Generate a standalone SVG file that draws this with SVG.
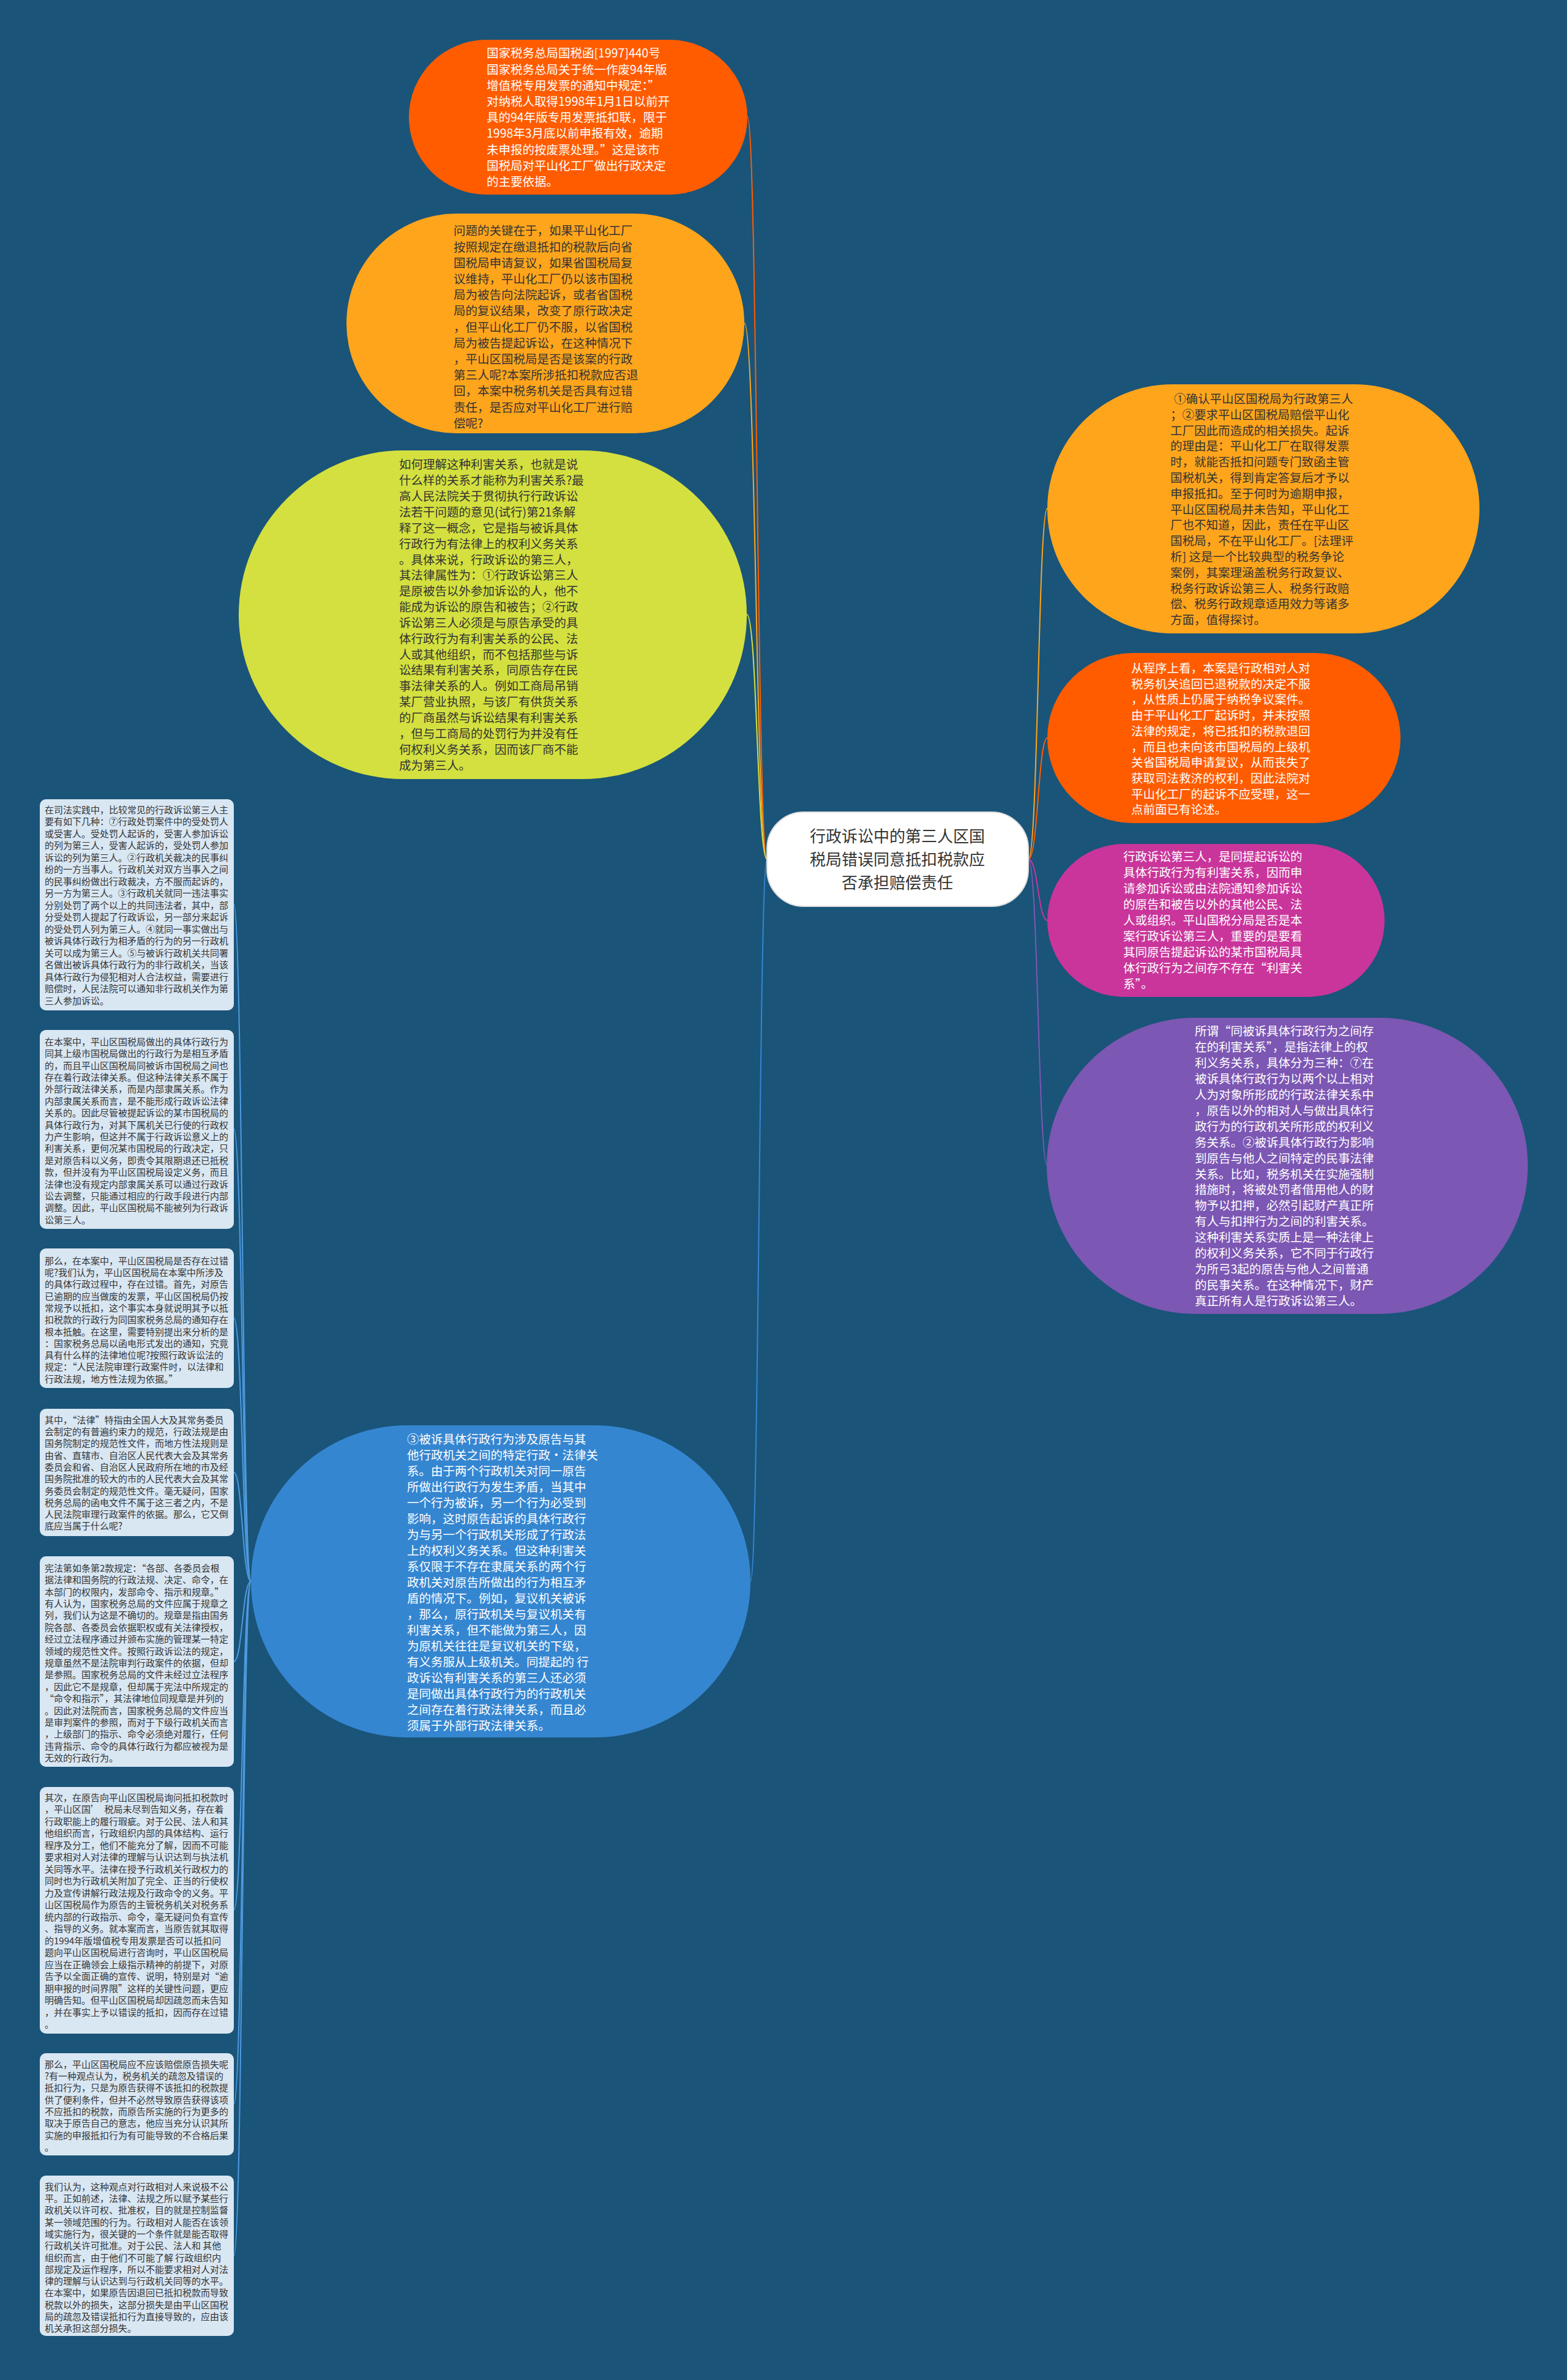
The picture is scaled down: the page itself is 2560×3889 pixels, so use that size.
<svg xmlns="http://www.w3.org/2000/svg" width="2560" height="3889" viewBox="0 0 2560 3889">
<style>
.n{font-family:"Noto Sans CJK SC","Noto Sans",sans-serif;font-size:19.5px}
.dk{fill:#333333}
.lt{fill:#ffffff}
.bx{fill:#d9e7f3}
.bt{font-family:"Noto Sans CJK SC","Noto Sans",sans-serif;font-size:15px;fill:#333333}
.rt{font-family:"Noto Sans CJK SC","Noto Sans",sans-serif;font-size:26px;fill:#333333;text-anchor:middle}
.c{fill:none;stroke-width:2}
</style>
<rect x="0" y="0" width="2560" height="3889" fill="#1a5479"/>
<g id="connectors">
<path class="c" stroke="#ff5c00" d="M1253,1404 C1237,1404 1237,191 1221,191"/>
<path class="c" stroke="#ffa51c" d="M1253,1404 C1235,1404 1235,528 1216,528"/>
<path class="c" stroke="#d3e03f" d="M1253,1404 C1237,1404 1237,1004 1220,1004"/>
<path class="c" stroke="#3586d1" d="M1253,1404 C1240,1404 1240,2584 1226,2584"/>
<path class="c" stroke="#ffa51c" d="M1680,1404 C1696,1404 1696,831 1711,831"/>
<path class="c" stroke="#ff5c00" d="M1680,1404 C1696,1404 1696,1206 1711,1206"/>
<path class="c" stroke="#c9359b" d="M1680,1404 C1696,1404 1696,1504 1711,1504"/>
<path class="c" stroke="#7c57b3" d="M1680,1404 C1696,1404 1696,1905 1711,1905"/>
<path class="c" stroke="#4f9be0" d="M410,2584 C396,2584 396,1478 382,1478"/>
<path class="c" stroke="#4f9be0" d="M410,2584 C396,2584 396,1845 382,1845"/>
<path class="c" stroke="#4f9be0" d="M410,2584 C396,2584 396,2154 382,2154"/>
<path class="c" stroke="#4f9be0" d="M410,2584 C396,2584 396,2406 382,2406"/>
<path class="c" stroke="#4f9be0" d="M410,2584 C396,2584 396,2715 382,2715"/>
<path class="c" stroke="#4f9be0" d="M410,2584 C396,2584 396,3121 382,3121"/>
<path class="c" stroke="#4f9be0" d="M410,2584 C396,2584 396,3438 382,3438"/>
<path class="c" stroke="#4f9be0" d="M410,2584 C396,2584 396,3686 382,3686"/>
</g>
<g id="root">
<rect x="1253" y="1327" width="427" height="154" rx="60" fill="#ffffff" stroke="#dddddd" stroke-width="2"/>
<text class="rt"><tspan x="1466" y="1376">行政诉讼中的第三人区国</tspan><tspan x="1466" y="1414">税局错误同意抵扣税款应</tspan><tspan x="1466" y="1452">否承担赔偿责任</tspan></text>
</g>
<g id="nodeA">
<rect x="668" y="65" width="553" height="253" rx="126.5" fill="#ff5c00"/>
<text class="n lt"><tspan x="795" y="94.4">国家税务总局国税函[1997]440号</tspan><tspan x="795" y="120.6">国家税务总局关于统一作废94年版</tspan><tspan x="795" y="146.8">增值税专用发票的通知中规定：”</tspan><tspan x="795" y="173">对纳税人取得1998年1月1日以前开</tspan><tspan x="795" y="199.2">具的94年版专用发票抵扣联，限于</tspan><tspan x="795" y="225.4">1998年3月底以前申报有效，逾期</tspan><tspan x="795" y="251.6">未申报的按废票处理。”这是该市</tspan><tspan x="795" y="277.8">国税局对平山化工厂做出行政决定</tspan><tspan x="795" y="304">的主要依据。</tspan></text>
</g>
<g id="nodeB">
<rect x="566" y="349" width="650" height="359" rx="179.5" fill="#ffa51c"/>
<text class="n dk"><tspan x="741" y="384.4">问题的关键在于，如果平山化工厂</tspan><tspan x="741" y="410.6">按照规定在缴退抵扣的税款后向省</tspan><tspan x="741" y="436.8">国税局申请复议，如果省国税局复</tspan><tspan x="741" y="463">议维持，平山化工厂仍以该市国税</tspan><tspan x="741" y="489.2">局为被告向法院起诉，或者省国税</tspan><tspan x="741" y="515.4">局的复议结果，改变了原行政决定</tspan><tspan x="741" y="541.6">，但平山化工厂仍不服，以省国税</tspan><tspan x="741" y="567.8">局为被告提起诉讼，在这种情况下</tspan><tspan x="741" y="594">，平山区国税局是否是该案的行政</tspan><tspan x="741" y="620.2">第三人呢?本案所涉抵扣税款应否退</tspan><tspan x="741" y="646.4">回，本案中税务机关是否具有过错</tspan><tspan x="741" y="672.6">责任，是否应对平山化工厂进行赔</tspan><tspan x="741" y="698.8">偿呢?</tspan></text>
</g>
<g id="nodeC">
<rect x="390" y="736" width="830" height="537" rx="268.5" fill="#d3e03f"/>
<text class="n dk"><tspan x="652" y="766.4">如何理解这种利害关系，也就是说</tspan><tspan x="652" y="792.25">什么样的关系才能称为利害关系?最</tspan><tspan x="652" y="818.1">高人民法院关于贯彻执行行政诉讼</tspan><tspan x="652" y="843.95">法若干问题的意见(试行)第21条解</tspan><tspan x="652" y="869.8">释了这一概念，它是指与被诉具体</tspan><tspan x="652" y="895.65">行政行为有法律上的权利义务关系</tspan><tspan x="652" y="921.5">。具体来说，行政诉讼的第三人，</tspan><tspan x="652" y="947.35">其法律属性为：①行政诉讼第三人</tspan><tspan x="652" y="973.2">是原被告以外参加诉讼的人，他不</tspan><tspan x="652" y="999.05">能成为诉讼的原告和被告；②行政</tspan><tspan x="652" y="1024.9">诉讼第三人必须是与原告承受的具</tspan><tspan x="652" y="1050.75">体行政行为有利害关系的公民、法</tspan><tspan x="652" y="1076.6">人或其他组织，而不包括那些与诉</tspan><tspan x="652" y="1102.45">讼结果有利害关系，同原告存在民</tspan><tspan x="652" y="1128.3">事法律关系的人。例如工商局吊销</tspan><tspan x="652" y="1154.15">某厂营业执照，与该厂有供货关系</tspan><tspan x="652" y="1180">的厂商虽然与诉讼结果有利害关系</tspan><tspan x="652" y="1205.85">，但与工商局的处罚行为并没有任</tspan><tspan x="652" y="1231.7">何权利义务关系，因而该厂商不能</tspan><tspan x="652" y="1257.55">成为第三人。</tspan></text>
</g>
<g id="nodeD">
<rect x="1711" y="628" width="706" height="407" rx="203.5" fill="#ffa51c"/>
<text class="n dk"><tspan x="1918" y="659">①确认平山区国税局为行政第三人</tspan><tspan x="1912" y="684.8">；②要求平山区国税局赔偿平山化</tspan><tspan x="1912" y="710.6">工厂因此而造成的相关损失。起诉</tspan><tspan x="1912" y="736.4">的理由是：平山化工厂在取得发票</tspan><tspan x="1912" y="762.2">时，就能否抵扣问题专门致函主管</tspan><tspan x="1912" y="788">国税机关，得到肯定答复后才予以</tspan><tspan x="1912" y="813.8">申报抵扣。至于何时为逾期申报，</tspan><tspan x="1912" y="839.6">平山区国税局并未告知，平山化工</tspan><tspan x="1912" y="865.4">厂也不知道，因此，责任在平山区</tspan><tspan x="1912" y="891.2">国税局，不在平山化工厂。[法理评</tspan><tspan x="1912" y="917">析] 这是一个比较典型的税务争论</tspan><tspan x="1912" y="942.8">案例，其案理涵盖税务行政复议、</tspan><tspan x="1912" y="968.6">税务行政诉讼第三人、税务行政赔</tspan><tspan x="1912" y="994.4">偿、税务行政规章适用效力等诸多</tspan><tspan x="1912" y="1020.2">方面，值得探讨。</tspan></text>
</g>
<g id="nodeE">
<rect x="1711" y="1067" width="577" height="278" rx="139" fill="#ff5c00"/>
<text class="n lt"><tspan x="1848" y="1099">从程序上看，本案是行政相对人对</tspan><tspan x="1848" y="1124.7">税务机关追回已退税款的决定不服</tspan><tspan x="1848" y="1150.4">，从性质上仍属于纳税争议案件。</tspan><tspan x="1848" y="1176.1">由于平山化工厂起诉时，并未按照</tspan><tspan x="1848" y="1201.8">法律的规定，将已抵扣的税款退回</tspan><tspan x="1848" y="1227.5">，而且也未向该市国税局的上级机</tspan><tspan x="1848" y="1253.2">关省国税局申请复议，从而丧失了</tspan><tspan x="1848" y="1278.9">获取司法救济的权利，因此法院对</tspan><tspan x="1848" y="1304.6">平山化工厂的起诉不应受理，这一</tspan><tspan x="1848" y="1330.3">点前面已有论述。</tspan></text>
</g>
<g id="nodeF">
<rect x="1711" y="1379" width="551" height="250" rx="125" fill="#c9359b"/>
<text class="n lt"><tspan x="1835" y="1407">行政诉讼第三人，是同提起诉讼的</tspan><tspan x="1835" y="1433">具体行政行为有利害关系，因而申</tspan><tspan x="1835" y="1459">请参加诉讼或由法院通知参加诉讼</tspan><tspan x="1835" y="1485">的原告和被告以外的其他公民、法</tspan><tspan x="1835" y="1511">人或组织。平山国税分局是否是本</tspan><tspan x="1835" y="1537">案行政诉讼第三人，重要的是要看</tspan><tspan x="1835" y="1563">其同原告提起诉讼的某市国税局具</tspan><tspan x="1835" y="1589">体行政行为之间存不存在“利害关</tspan><tspan x="1835" y="1615">系”。</tspan></text>
</g>
<g id="nodeG">
<rect x="1710" y="1663" width="786" height="484" rx="242" fill="#7c57b3"/>
<text class="n lt"><tspan x="1952" y="1692.4">所谓“同被诉具体行政行为之间存</tspan><tspan x="1952" y="1718.3">在的利害关系”，是指法律上的权</tspan><tspan x="1952" y="1744.2">利义务关系，具体分为三种：⑦在</tspan><tspan x="1952" y="1770.1">被诉具体行政行为以两个以上相对</tspan><tspan x="1952" y="1796">人为对象所形成的行政法律关系中</tspan><tspan x="1952" y="1821.9">，原告以外的相对人与做出具体行</tspan><tspan x="1952" y="1847.8">政行为的行政机关所形成的权利义</tspan><tspan x="1952" y="1873.7">务关系。②被诉具体行政行为影响</tspan><tspan x="1952" y="1899.6">到原告与他人之间特定的民事法律</tspan><tspan x="1952" y="1925.5">关系。比如，税务机关在实施强制</tspan><tspan x="1952" y="1951.4">措施时，将被处罚者借用他人的财</tspan><tspan x="1952" y="1977.3">物予以扣押，必然引起财产真正所</tspan><tspan x="1952" y="2003.2">有人与扣押行为之间的利害关系。</tspan><tspan x="1952" y="2029.1">这种利害关系实质上是一种法律上</tspan><tspan x="1952" y="2055">的权利义务关系，它不同于行政行</tspan><tspan x="1952" y="2080.9">为所弓3起的原告与他人之间普通</tspan><tspan x="1952" y="2106.8">的民事关系。在这种情况下，财产</tspan><tspan x="1952" y="2132.7">真正所有人是行政诉讼第三人。</tspan></text>
</g>
<g id="nodeH">
<rect x="410" y="2329" width="816" height="510" rx="255" fill="#3586d1"/>
<text class="n lt"><tspan x="665" y="2359.2">③被诉具体行政行为涉及原告与其</tspan><tspan x="665" y="2385.2">他行政机关之间的特定行政·法律关</tspan><tspan x="665" y="2411.1">系。由于两个行政机关对同一原告</tspan><tspan x="665" y="2437.1">所做出行政行为发生矛盾，当其中</tspan><tspan x="665" y="2463">一个行为被诉，另一个行为必受到</tspan><tspan x="665" y="2489">影响，这时原告起诉的具体行政行</tspan><tspan x="665" y="2515">为与另一个行政机关形成了行政法</tspan><tspan x="665" y="2540.9">上的权利义务关系。但这种利害关</tspan><tspan x="665" y="2566.9">系仅限于不存在隶属关系的两个行</tspan><tspan x="665" y="2592.8">政机关对原告所做出的行为相互矛</tspan><tspan x="665" y="2618.8">盾的情况下。例如，复议机关被诉</tspan><tspan x="665" y="2644.8">，那么，原行政机关与复议机关有</tspan><tspan x="665" y="2670.7">利害关系，但不能做为第三人，因</tspan><tspan x="665" y="2696.7">为原机关往往是复议机关的下级，</tspan><tspan x="665" y="2722.6">有义务服从上级机关。同提起的 行</tspan><tspan x="665" y="2748.6">政诉讼有利害关系的第三人还必须</tspan><tspan x="665" y="2774.6">是同做出具体行政行为的行政机关</tspan><tspan x="665" y="2800.5">之间存在着行政法律关系，而且必</tspan><tspan x="665" y="2826.5">须属于外部行政法律关系。</tspan></text>
</g>
<g id="box1">
<rect class="bx" x="65" y="1306" width="317" height="345" rx="10"/>
<text class="bt"><tspan x="73" y="1328.7">在司法实践中，比较常见的行政诉讼第三人主</tspan><tspan x="73" y="1348.2">要有如下几种：⑦行政处罚案件中的受处罚人</tspan><tspan x="73" y="1367.7">或受害人。受处罚人起诉的，受害人参加诉讼</tspan><tspan x="73" y="1387.2">的列为第三人，受害人起诉的，受处罚人参加</tspan><tspan x="73" y="1406.7">诉讼的列为第三人。②行政机关裁决的民事纠</tspan><tspan x="73" y="1426.2">纷的一方当事人。行政机关对双方当事入之间</tspan><tspan x="73" y="1445.7">的民事纠纷做出行政裁决，方不服而起诉的，</tspan><tspan x="73" y="1465.2">另一方为第三人。③行政机关就同一违法事实</tspan><tspan x="73" y="1484.7">分别处罚了两个以上的共同违法者，其中，部</tspan><tspan x="73" y="1504.2">分受处罚人提起了行政诉讼，另一部分来起诉</tspan><tspan x="73" y="1523.7">的受处罚人列为第三人。④就同一事实做出与</tspan><tspan x="73" y="1543.2">被诉具体行政行为相矛盾的行为的另一行政机</tspan><tspan x="73" y="1562.7">关可以成为第三人。⑤与被诉行政机关共同署</tspan><tspan x="73" y="1582.2">名做出被诉具体行政行为的非行政机关，当该</tspan><tspan x="73" y="1601.7">具体行政行为侵犯相对人合法权益，需要进行</tspan><tspan x="73" y="1621.2">赔偿时，人民法院可以通知非行政机关作为第</tspan><tspan x="73" y="1640.7">三人参加诉讼。</tspan></text>
</g>
<g id="box2">
<rect class="bx" x="65" y="1683" width="317" height="325" rx="10"/>
<text class="bt"><tspan x="73" y="1707.7">在本案中，平山区国税局做出的具体行政行为</tspan><tspan x="73" y="1727.1">同其上级市国税局做出的行政行为是相互矛盾</tspan><tspan x="73" y="1746.5">的，而且平山区国税局同被诉市国税局之间也</tspan><tspan x="73" y="1765.9">存在着行政法律关系。但这种法律关系不属于</tspan><tspan x="73" y="1785.3">外部行政法律关系，而是内部隶属关系。作为</tspan><tspan x="73" y="1804.7">内部隶属关系而言，是不能形成行政诉讼法律</tspan><tspan x="73" y="1824.1">关系的。因此尽管被提起诉讼的某市国税局的</tspan><tspan x="73" y="1843.5">具体行政行为，对其下属机关已行使的行政权</tspan><tspan x="73" y="1862.9">力产生影响，但这并不属于行政诉讼意义上的</tspan><tspan x="73" y="1882.3">利害关系，更何况某市国税局的行政决定，只</tspan><tspan x="73" y="1901.7">是对原告科以义务，即责令其限期退还已抵税</tspan><tspan x="73" y="1921.1">款，但并没有为平山区国税局设定义务，而且</tspan><tspan x="73" y="1940.5">法律也没有规定内部隶属关系可以通过行政诉</tspan><tspan x="73" y="1959.9">讼去调整，只能通过相应的行政手段进行内部</tspan><tspan x="73" y="1979.3">调整。因此，平山区国税局不能被列为行政诉</tspan><tspan x="73" y="1998.7">讼第三人。</tspan></text>
</g>
<g id="box3">
<rect class="bx" x="65" y="2040" width="317" height="228" rx="10"/>
<text class="bt"><tspan x="73" y="2065.7">那么，在本案中，平山区国税局是否存在过错</tspan><tspan x="73" y="2085">呢?我们认为，平山区国税局在本案中所涉及</tspan><tspan x="73" y="2104.3">的具体行政过程中，存在过错。首先，对原告</tspan><tspan x="73" y="2123.6">已逾期的应当做废的发票，平山区国税局仍按</tspan><tspan x="73" y="2142.9">常规予以抵扣，这个事实本身就说明其予以抵</tspan><tspan x="73" y="2162.2">扣税款的行政行为同国家税务总局的通知存在</tspan><tspan x="73" y="2181.5">根本抵触。在这里，需要特别提出来分析的是</tspan><tspan x="73" y="2200.8">：国家税务总局以函电形式发出的通知，究竟</tspan><tspan x="73" y="2220.1">具有什么样的法律地位呢?按照行政诉讼法的</tspan><tspan x="73" y="2239.4">规定：“人民法院审理行政案件时，以法律和</tspan><tspan x="73" y="2258.7">行政法规，地方性法规为依据。”</tspan></text>
</g>
<g id="box4">
<rect class="bx" x="65" y="2302" width="317" height="208" rx="10"/>
<text class="bt"><tspan x="73" y="2325.7">其中，“法律”特指由全国人大及其常务委员</tspan><tspan x="73" y="2345">会制定的有普遍约束力的规范，行政法规是由</tspan><tspan x="73" y="2364.3">国务院制定的规范性文件，而地方性法规则是</tspan><tspan x="73" y="2383.6">由省、直辖市、自治区人民代表大会及其常务</tspan><tspan x="73" y="2402.9">委员会和省、自治区人民政府所在地的市及经</tspan><tspan x="73" y="2422.2">国务院批准的较大的市的人民代表大会及其常</tspan><tspan x="73" y="2441.5">务委员会制定的规范性文件。毫无疑问，国家</tspan><tspan x="73" y="2460.8">税务总局的函电文件不属于这三者之内，不是</tspan><tspan x="73" y="2480.1">人民法院审理行政案件的依据。那么，它又倒</tspan><tspan x="73" y="2499.4">底应当属于什么呢?</tspan></text>
</g>
<g id="box5">
<rect class="bx" x="65" y="2543" width="317" height="344" rx="10"/>
<text class="bt"><tspan x="73" y="2567.7">宪法第如条第2款规定：“各部、各委员会根</tspan><tspan x="73" y="2587.1">据法律和国务院的行政法规、决定、命令，在</tspan><tspan x="73" y="2606.5">本部门的权限内，发部命令、指示和规章。”</tspan><tspan x="73" y="2625.9">有人认为，国家税务总局的文件应属于规章之</tspan><tspan x="73" y="2645.3">列，我们认为这是不确切的。规章是指由国务</tspan><tspan x="73" y="2664.7">院各部、各委员会依据职权或有关法律授权，</tspan><tspan x="73" y="2684.1">经过立法程序通过并颁布实施的管理某一特定</tspan><tspan x="73" y="2703.5">领域的规范性文件。按照行政诉讼法的规定，</tspan><tspan x="73" y="2722.9">规章虽然不是法院审判行政案件的依据，但却</tspan><tspan x="73" y="2742.3">是参照。国家税务总局的文件未经过立法程序</tspan><tspan x="73" y="2761.7">，因此它不是规章，但却属于宪法中所规定的</tspan><tspan x="73" y="2781.1">“命令和指示”，其法律地位同规章是并列的</tspan><tspan x="73" y="2800.5">。因此对法院而言，国家税务总局的文件应当</tspan><tspan x="73" y="2819.9">是审判案件的参照，而对于下级行政机关而言</tspan><tspan x="73" y="2839.3">，上级部门的指示、命令必须绝对履行，任何</tspan><tspan x="73" y="2858.7">违背指示、命令的具体行政行为都应被视为是</tspan><tspan x="73" y="2878.1">无效的行政行为。</tspan></text>
</g>
<g id="box6">
<rect class="bx" x="65" y="2920" width="317" height="403" rx="10"/>
<text class="bt"><tspan x="73" y="2942.7">其次，在原告向平山区国税局询问抵扣税款时</tspan><tspan x="73" y="2962.2">，平山区国’　税局未尽到告知义务，存在着</tspan><tspan x="73" y="2981.7">行政职能上的履行瑕疵。对于公民、法人和其</tspan><tspan x="73" y="3001.2">他组织而言，行政组织内部的具体结构、运行</tspan><tspan x="73" y="3020.7">程序及分工，他们不能充分了解，因而不可能</tspan><tspan x="73" y="3040.2">要求相对人对法律的理解与认识达到与执法机</tspan><tspan x="73" y="3059.7">关同等水平。法律在授予行政机关行政权力的</tspan><tspan x="73" y="3079.2">同时也为行政机关附加了完全、正当的行使权</tspan><tspan x="73" y="3098.7">力及宣传讲解行政法规及行政命令的义务。平</tspan><tspan x="73" y="3118.2">山区国税局作为原告的主管税务机关对税务系</tspan><tspan x="73" y="3137.7">统内部的行政指示、命令，毫无疑问负有宣传</tspan><tspan x="73" y="3157.2">、指导的义务。就本案而言，当原告就其取得</tspan><tspan x="73" y="3176.7">的1994年版增值税专用发票是否可以抵扣问</tspan><tspan x="73" y="3196.2">题向平山区国税局进行咨询时，平山区国税局</tspan><tspan x="73" y="3215.7">应当在正确领会上级指示精神的前提下，对原</tspan><tspan x="73" y="3235.2">告予以全面正确的宣传、说明，特别是对“逾</tspan><tspan x="73" y="3254.7">期申报的时间界限”这样的关键性问题，更应</tspan><tspan x="73" y="3274.2">明确告知。但平山区国税局却因疏忽而未告知</tspan><tspan x="73" y="3293.7">，并在事实上予以错误的抵扣，因而存在过错</tspan><tspan x="73" y="3313.2">。</tspan></text>
</g>
<g id="box7">
<rect class="bx" x="65" y="3355" width="317" height="167" rx="10"/>
<text class="bt"><tspan x="73" y="3378.7">那么，平山区国税局应不应该赔偿原告损失呢</tspan><tspan x="73" y="3398">?有一种观点认为，税务机关的疏忽及错误的</tspan><tspan x="73" y="3417.3">抵扣行为，只是为原告获得不该抵扣的税款提</tspan><tspan x="73" y="3436.6">供了便利条件，但并不必然导致原告获得该项</tspan><tspan x="73" y="3455.9">不应抵扣的税款，而原告所实施的行为更多的</tspan><tspan x="73" y="3475.2">取决于原告自己的意志，他应当充分认识其所</tspan><tspan x="73" y="3494.5">实施的申报抵扣行为有可能导致的不合格后果</tspan><tspan x="73" y="3513.8">。</tspan></text>
</g>
<g id="box8">
<rect class="bx" x="65" y="3555" width="317" height="262" rx="10"/>
<text class="bt"><tspan x="73" y="3578.7">我们认为，这种观点对行政相对人来说极不公</tspan><tspan x="73" y="3598">平。正如前述，法律、法规之所以赋予某些行</tspan><tspan x="73" y="3617.3">政机关以许可权、批准权，目的就是控制监督</tspan><tspan x="73" y="3636.6">某一领域范围的行为。行政相对人能否在该领</tspan><tspan x="73" y="3655.9">域实施行为，很关键的一个条件就是能否取得</tspan><tspan x="73" y="3675.2">行政机关许可批准。对于公民、法人和 其他</tspan><tspan x="73" y="3694.5">组织而言，由于他们不可能了解 行政组织内</tspan><tspan x="73" y="3713.8">部规定及运作程序，所以不能要求相对人对法</tspan><tspan x="73" y="3733.1">律的理解与认识达到与行政机关同等的水平。</tspan><tspan x="73" y="3752.4">在本案中，如果原告因退回已抵扣税款而导致</tspan><tspan x="73" y="3771.7">税款以外的损失，这部分损失是由平山区国税</tspan><tspan x="73" y="3791">局的疏忽及错误抵扣行为直接导致的，应由该</tspan><tspan x="73" y="3810.3">机关承担这部分损失。</tspan></text>
</g>
</svg>
